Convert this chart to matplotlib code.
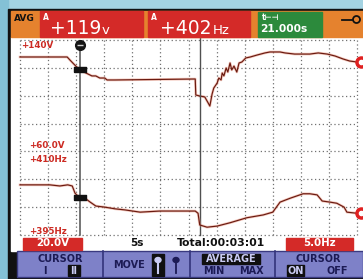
import matplotlib
matplotlib.use("Agg")
import matplotlib.pyplot as plt
import matplotlib.transforms as mtransforms
from matplotlib.patches import Rectangle, Circle, Ellipse
from matplotlib import font_manager
import numpy as np

# ---------------- data ----------------
volt_time = [0, 8.4, 8.9, 9.4, 10.1, 10.7, 11.4, 12.1, 12.8, 13.5, 14.2, 15.1, 15.5, 16.9,
             31.2, 31.3, 32.0, 32.9, 33.5, 33.8, 34.2, 34.5, 35.1, 35.4, 35.8, 36.0, 36.3,
             36.7, 37.0, 37.4, 37.7, 38.1, 38.6, 39.0, 39.5, 40.2, 41.0, 42.2, 43.6, 44.5,
             46.3, 47.2, 48.9, 51.6, 53.1, 54.7, 56.1, 57.5, 58.7, 60.0]
volt_values = [127.8, 127.8, 125.6, 123.5, 120.6, 119.2, 117.0, 115.6, 114.2, 114.2, 112.7,
               112.7, 111.3, 111.3, 112.0, 100.5, 99.8, 99.1, 94.8, 92.6, 101.2, 105.5, 109.1,
               112.7, 111.3, 116.3, 114.2, 119.9, 117.0, 123.5, 118.5, 121.3, 117.0, 123.5,
               124.2, 127.1, 127.8, 129.2, 130.7, 131.4, 131.4, 130.7, 129.9, 129.9, 130.7,
               129.9, 128.5, 126.4, 124.9, 124.2]
freq_time = [0, 5.3, 7.1, 8.5, 9.3, 9.8, 10.3, 11.0, 11.7, 12.5, 13.5, 15.1, 16.9, 18.7, 21.4,
             24.9, 28.5, 31.2, 31.7, 32.0, 33.3, 35.1, 37.4, 40.4, 43.3, 45.0, 46.3, 48.1,
             50.4, 51.6, 52.9, 53.8, 55.2, 56.4, 57.7, 58.2, 60.0]
freq_values = [404.0, 404.0, 403.8, 404.0, 403.8, 402.5, 402.0, 401.8, 401.5, 400.9, 400.2,
               400.0, 399.7, 399.5, 399.1, 399.3, 399.3, 399.3, 398.9, 396.8, 396.4, 396.6,
               397.2, 398.1, 398.6, 399.1, 400.9, 401.6, 402.4, 402.4, 402.2, 401.1, 400.9,
               400.7, 400.0, 399.1, 398.9]
time_ticks = list(range(0, 61, 5))
volt_ticks = list(range(0, 141, 20))
cursor_times = [10.7, 32.0]

header_volt, header_volt_unit = "+119", "v"
header_freq, header_freq_unit = "+402", "Hz"
header_time = "21.000s"
trace_labels = ["+140V", "+60.0V", "+410Hz", "+395Hz"]
volt_scale_label, time_scale_label, total_label, freq_scale_label = "20.0V", "5s", "Total:00:03:01", "5.0Hz"

# ---------------- layout (pixels) ----------------
W, H = 363, 279
fig = plt.figure(figsize=(W / 100, H / 100), dpi=100)

names = {f.name for f in font_manager.fontManager.ttflist}
NARROW = "Liberation Sans Narrow" if "Liberation Sans Narrow" in names else "DejaVu Sans"
narrow_ok = NARROW != "DejaVu Sans"


def px_axes(x0, y0, x1, y1, **kw):
    return fig.add_axes([x0 / W, 1 - y1 / H, (x1 - x0) / W, (y1 - y0) / H], **kw)


def pixel_canvas():
    a = px_axes(0, 0, W, H)
    a.set_xlim(0, W)
    a.set_ylim(H, 0)
    a.axis("off")
    a.patch.set_alpha(0)
    return a


# background
bg = pixel_canvas()
bg.add_patch(Rectangle((0, 0), W, H, color="#a4d3e2", zorder=0))
bg.add_patch(Rectangle((0, 0), 8, H, color="#84c1d6", zorder=0))
bg.add_patch(Rectangle((8, 9), W - 8, H - 9, color="#111111", zorder=1))
bg.add_patch(Rectangle((11, 37), W - 11, 214, color="white", zorder=2))

# plot axes
PX_L, PX_R, PX_T, PX_B = 11, 363, 37, 251
X0_PX, X1_PX = 20, 357          # pixel of t=0 and t=60
Y_TOP_PX, Y_BOT_PX = 40, 235    # pixel of top / bottom grid lines
ax = px_axes(PX_L, PX_T, PX_R, PX_B)
ax.patch.set_alpha(0)
sx = (X1_PX - X0_PX) / (time_ticks[-1] - time_ticks[0])
ax.set_xlim(time_ticks[0] - (X0_PX - PX_L) / sx, time_ticks[-1] + (PX_R - X1_PX) / sx)
sv = (Y_BOT_PX - Y_TOP_PX) / (volt_ticks[-1] - volt_ticks[0])
ax.set_ylim(volt_ticks[0] - (PX_B - Y_BOT_PX) / sv, volt_ticks[-1] + (Y_TOP_PX - PX_T) / sv)
for s in ax.spines.values():
    s.set_visible(False)
ax.set_xticks([])
ax.set_yticks([])

dots = dict(color="#707070", lw=0.9, linestyles=[(0, (1, 2.1))], zorder=1)
ax.vlines(time_ticks, volt_ticks[0], volt_ticks[-1], **dots)
ax.hlines(volt_ticks, time_ticks[0], time_ticks[-1], **dots)

# frequency axis aligned: 410 Hz on the 60 V line, 5 Hz per division
ax2 = ax.twinx()
ax2.patch.set_alpha(0)
ax2.axis("off")
f_ref, v_ref, hz_per_div = 410.0, 60.0, 5.0
v_per_div = volt_ticks[1] - volt_ticks[0]
vlo, vhi = ax.get_ylim()
ax2.set_ylim(f_ref + (vlo - v_ref) / v_per_div * hz_per_div, f_ref + (vhi - v_ref) / v_per_div * hz_per_div)

trace_halo = "#e8907a"
trace_core = "#6a1a10"
ax.plot(volt_time, volt_values, color=trace_halo, lw=1.9, alpha=0.5, zorder=3)
ax.plot(volt_time, volt_values, color=trace_core, lw=0.85, zorder=4)
ax2.plot(freq_time, freq_values, color=trace_halo, lw=1.9, alpha=0.5, zorder=3)
ax2.plot(freq_time, freq_values, color=trace_core, lw=0.85, zorder=4)

# end markers at right edge
off = mtransforms.ScaledTranslation(4 / 100, 0, fig.dpi_scale_trans)
for a, xs, ys in ((ax, volt_time, volt_values), (ax2, freq_time, freq_values)):
    a.plot([xs[-1]], [ys[-1]], "o", ms=8, mfc="#e02020", mec="#e02020",
           transform=a.transData + off, clip_on=False, zorder=6)
    a.plot([xs[-1]], [ys[-1]], "o", ms=3, mfc="white", mec="white",
           transform=a.transData + off, clip_on=False, zorder=7)

# cursors
frac = lambda py: (PX_B - py) / (PX_B - PX_T)
ax.axvline(cursor_times[0], ymin=frac(Y_BOT_PX), ymax=frac(42), color="#505050", lw=1.1, zorder=5)
ax.axvline(cursor_times[1], ymin=frac(Y_BOT_PX), ymax=1, color="#505050", lw=1.0, zorder=5)
bl = mtransforms.blended_transform_factory(ax.transData, ax.transAxes)
ax.plot([cursor_times[0]], [frac(45)], marker="o", ms=7, color="#151515", transform=bl,
        clip_on=False, zorder=6)
ax.plot([cursor_times[0]], [frac(45)], marker="_", ms=5, mew=1, color="#cfcfcf", transform=bl,
        clip_on=False, zorder=7)
rect_marker = [(-1, -0.45), (1, -0.45), (1, 0.45), (-1, 0.45), (-1, -0.45)]
ax.plot([cursor_times[0]], [np.interp(cursor_times[0], volt_time, volt_values)], marker=rect_marker,
        ms=8, color="#111111", lw=0, zorder=6)
ax2.plot([cursor_times[0]], [np.interp(cursor_times[0], freq_time, freq_values)], marker=rect_marker,
         ms=8, color="#111111", lw=0, zorder=6)

# ---------------- foreground decorations ----------------
fg = pixel_canvas()
RED = "#d42a28"
NAVY = "#1c1b55"
LAV = "#c9cbf2"
big = 17 if narrow_ok else 13.5
mid = 9 if narrow_ok else 7.5
small_f = 9 if narrow_ok else 7


def txt(x, y, s, size, color, ha="center", va="center", weight="bold", family=None, **kw):
    fg.text(x, y, s, fontsize=size, color=color, ha=ha, va=va, fontweight=weight,
            family=family or "DejaVu Sans", **kw)


# header
fg.add_patch(Rectangle((11, 11), W - 11, 26, color="#e5822e"))
txt(14, 18.5, "AVG", 6.5, "#111111", ha="left")
fg.add_patch(Rectangle((40, 11), 103, 25.5, color=RED))
fg.add_patch(Rectangle((148, 11), 102, 25.5, color=RED))
fg.add_patch(Rectangle((258, 11.5), 64, 25, color="#2c8a3c"))
txt(43, 17, "A", 5.5, "white", ha="left")
txt(151, 17, "A", 5.5, "white", ha="left")
txt(101, 34.5, header_volt, big, "white", ha="right", va="baseline", family=NARROW, weight="normal")
txt(102, 33.5, header_volt_unit, mid + 2, "white", ha="left", va="baseline", family=NARROW, weight="normal")
txt(212, 34.5, header_freq, big, "white", ha="right", va="baseline", family=NARROW, weight="normal")
txt(213, 33.5, header_freq_unit, mid + 2, "white", ha="left", va="baseline", family=NARROW, weight="normal")
txt(262, 17.5, "t\u22a2\u22a3", 5.5, "white", ha="left")
txt(260, 29, header_time, 7.7, "white", ha="left")
fg.plot([342, 352], [19.5, 19.5], color="#111111", lw=1.3)
fg.add_patch(Circle((356.5, 19.5), 3.5, fill=False, ec="#111111", lw=1.3))

# trace labels
txt(21, 45, trace_labels[0], 6.3, "#cc2a22", ha="left")
txt(29, 146, trace_labels[1], 6.3, "#cc2a22", ha="left")
txt(29, 159, trace_labels[2], 6.3, "#cc2a22", ha="left")
txt(29, 231, trace_labels[3], 6.3, "#cc2a22", ha="left")

# info row
fg.add_patch(Rectangle((23, 237.5), 59, 12, color=RED, zorder=3))
txt(52.5, 243.5, volt_scale_label, 7.4, "white", zorder=4)
txt(137, 243.5, time_scale_label, 7.6, "#111111")
txt(221, 243.5, total_label, 7.8, "#111111")
fg.add_patch(Rectangle((286, 237.5), 67, 12, color=RED, zorder=3))
txt(319.5, 243.5, freq_scale_label, 7.4, "white", zorder=4)

# softkey bar
fg.add_patch(Rectangle((17, 251), W - 17, 26, color="#7e81c8", ec="#3a3a80", lw=1))
for xs in (103, 190, 275):
    fg.plot([xs, xs], [251, 277], color="#33337a", lw=1.2)
sk = small_f
txt(60, 258.5, "CURSOR", sk, NAVY, family=NARROW)
txt(45, 270.5, "I", sk, NAVY, family=NARROW)
fg.add_patch(Rectangle((68, 264.5), 12, 11, color="#101010"))
txt(74, 270.5, "II", sk, LAV, family=NARROW)
txt(129, 264.5, "MOVE", sk, NAVY, family=NARROW)
fg.add_patch(Rectangle((152, 254), 12, 21.5, color="#101010"))
fg.add_patch(Ellipse((158, 260), 6, 5, color=LAV))
fg.plot([158, 158], [262, 273], color=LAV, lw=1.5)
fg.add_patch(Ellipse((176, 260), 6, 5, color=NAVY))
fg.plot([176, 176], [262, 273], color=NAVY, lw=1.3)
fg.add_patch(Rectangle((202, 253.5), 58, 10, color="#101010"))
txt(231, 258.5, "AVERAGE", sk, LAV, family=NARROW)
txt(214, 270.5, "MIN", sk, NAVY, family=NARROW)
txt(251, 270.5, "MAX", sk, NAVY, family=NARROW)
txt(318, 258.5, "CURSOR", sk, NAVY, family=NARROW)
fg.add_patch(Rectangle((287, 264.5), 17, 11, color="#101010"))
txt(295.5, 270.5, "ON", sk, LAV, family=NARROW)
txt(337, 270.5, "OFF", sk, NAVY, family=NARROW)

fig.savefig("out.png", dpi=100)
